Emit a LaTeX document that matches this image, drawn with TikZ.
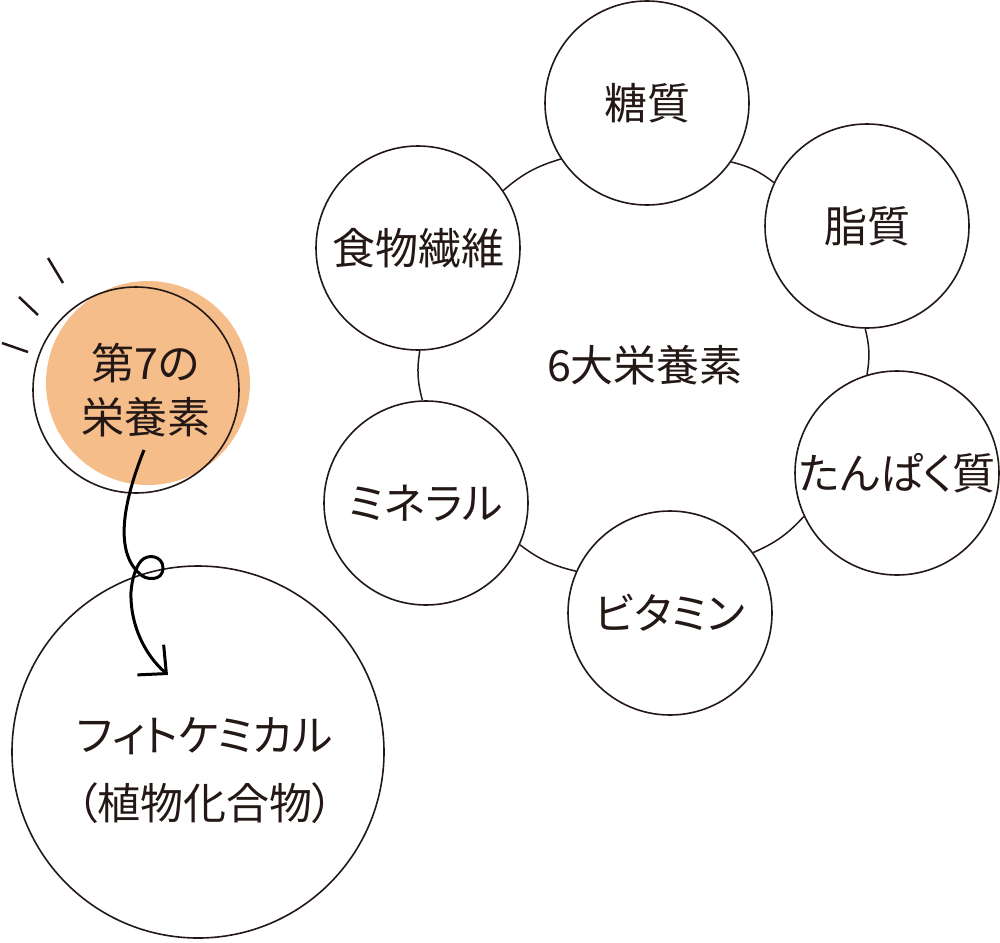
\documentclass[tikz,border=0pt]{standalone}
\usepackage{fontspec}
\setmainfont{Noto Sans CJK JP}
\newfontfamily\jpprop{Noto Sans CJK JP}[RawFeature=+palt]
\usetikzlibrary{arrows.meta}
\definecolor{ink}{HTML}{231815}
\definecolor{apricot}{HTML}{F5BD8A}
\newcommand{\jpbig}{\fontsize{43}{54}\selectfont}
\newcommand{\jpwide}{\jpprop\fontsize{43}{68}\selectfont}
\tikzset{
  nutrient/.style={circle, draw=ink, line width=1.6pt, fill=white,
    minimum size=204pt, inner sep=0pt, text=ink, font=\jpbig},
  kana/.style={font=\jpprop\jpbig},
  ringline/.style={draw=ink, line width=1.5pt},
}

\begin{document}
\begin{tikzpicture}[x=1pt, y=-1pt, >={Straight Barb[length=21pt, width=40pt]}]
\useasboundingbox (0,0) rectangle (1000,942);

% the six nutrients round the ring
\node[nutrient] (sugar) at (647,103) {糖質};
\node[nutrient] (fat) at (867,226) {脂質};
\node[nutrient, kana] (protein) at (897,473) {\makebox[0pt]{たんぱく質}};
\node[nutrient, kana] (vitamin) at (670,613) {ビタミン};
\node[nutrient, kana] (mineral) at (426,503) {ミネラル};
\node[nutrient] (fibre) at (418,248) {食物繊維};
\foreach \a/\oa/\b/\ob in {sugar/-35/fat/155, fat/-91/protein/107,
    protein/-155/vitamin/36, vitamin/156/mineral/-24,
    mineral/92/fibre/-89, fibre/34/sugar/-147}
  \draw[ringline] (\a.\oa) to[bend left=12] (\b.\ob);
\node[text=ink, font=\jpbig] (six) at (645,365) {6大栄養素};

% the seventh one
\node[circle, fill=apricot, minimum size=204pt, inner sep=0pt] (seventhfill) at (148,383) {};
\node[circle, draw=ink, line width=1.6pt, minimum size=206pt, inner sep=0pt] (seventh) at (136,390) {};
\node[align=center, text=ink, font=\jpbig] (seventhlabel) at (146,390) {第7の\\栄養素};

% the dashes
\draw[ink, line width=2.5pt] (48,258) -- (63,283);
\draw[ink, line width=2.5pt] (19,297) -- (38,315);
\draw[ink, line width=2.5pt] (2,343) -- (28,352);

% the big circle
\node[circle, draw=ink, line width=1.6pt, minimum size=372pt, inner sep=0pt] (phyto) at (198,752) {};
\node[align=center, text=ink, font=\jpwide] (phytolabel) at (205,771) {フィトケミカル\\（植物化合物）};

% the looped arrow
\coordinate (arrowfrom) at (144,450);
\coordinate (arrowto) at (168,675);
\draw[->, black, line width=3pt] (arrowfrom) .. controls (126,495) and (112,550) .. (140,574)
  .. controls (145,580) and (163,582) .. (163,568)
  .. controls (163,556) and (148,553) .. (141,561)
  .. controls (136,567) and (132,578) .. (131,592)
  .. controls (130,625) and (145,655) .. (arrowto);
\end{tikzpicture}
\end{document}
